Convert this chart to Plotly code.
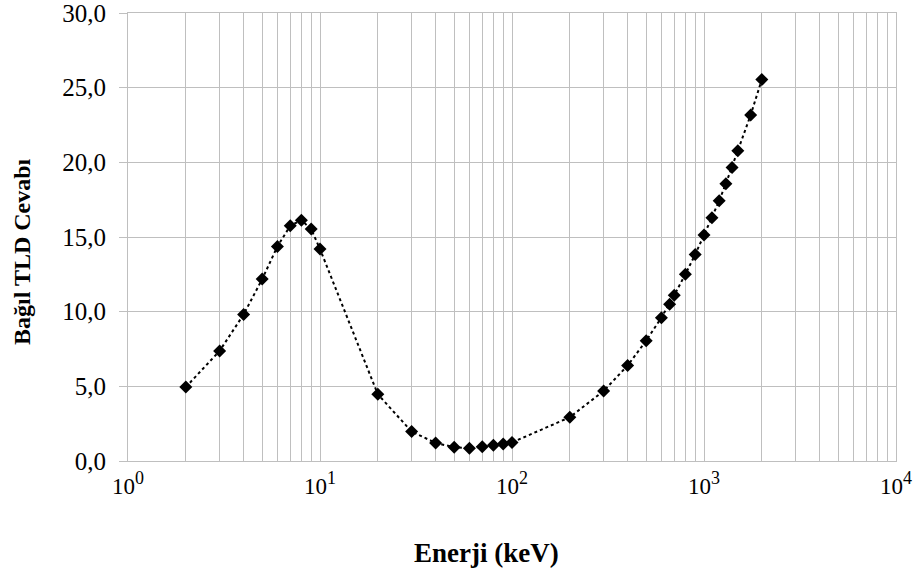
import plotly.graph_objects as go

energy_kev = [2, 3, 4, 5, 6, 7, 8, 9, 10, 20, 30, 40, 50, 60, 70, 80, 90, 100,
              200, 300, 400, 500, 600, 662, 700, 800, 900, 1000, 1100, 1200,
              1300, 1400, 1500, 1750, 2000]
response = [4.95, 7.37, 9.81, 12.18, 14.37, 15.75, 16.13, 15.53, 14.19, 4.47,
            1.97, 1.21, 0.92, 0.85, 0.96, 1.05, 1.14, 1.24,
            2.93, 4.69, 6.39, 8.06, 9.6, 10.5, 11.1, 12.51, 13.83, 15.13, 16.29, 17.43,
            18.57, 19.66, 20.78, 23.17, 25.54]

x_tick_vals = [1, 10, 100, 1000, 10000]
x_tick_exponents = ["0", "1", "2", "3", "4"]
y_tick_vals = [0, 5, 10, 15, 20, 25, 30]
y_tick_text = ["0,0", "5,0", "10,0", "15,0", "20,0", "25,0", "30,0"]

x_tick_text = ["10<sup><span style='font-size:18px'>%s</span></sup>" % e for e in x_tick_exponents]

# gridlines at every integer multiple within each decade
grid_vals = []
for d in [1, 10, 100, 1000]:
    for m in range(1, 10):
        grid_vals.append(m * d)
grid_vals.append(10000)
grid_text = [x_tick_text[x_tick_vals.index(v)] if v in x_tick_vals else "" for v in grid_vals]

FONT = "Liberation Serif, Times New Roman, serif"
GRID = "#bfbfbf"
W, H = 915, 571
PL, PR, PT, PB = 128, 896, 13, 461  # plot area in page pixels

fig = go.Figure()
fig.add_trace(go.Scatter(
    x=energy_kev, y=response, mode="lines+markers",
    line=dict(color="black", width=2, dash="dot"),
    marker=dict(symbol="diamond", size=10, color="black"),
    showlegend=False, cliponaxis=False,
))

fig.update_layout(
    width=W, height=H,
    margin=dict(l=PL, r=W - PR, t=PT, b=H - PB, pad=0),
    paper_bgcolor="white", plot_bgcolor="white",
    font=dict(family=FONT, color="black"),
    xaxis=dict(
        type="log", range=[0, 4],
        tickmode="array", tickvals=grid_vals, ticktext=grid_text,
        showgrid=True, gridcolor=GRID, gridwidth=1,
        showline=True, linecolor=GRID, linewidth=1, mirror=True,
        ticks="", tickfont=dict(family=FONT, size=23, color="black"),
        ticklabeloverflow="allow", ticklabelstandoff=4,
        zeroline=False, automargin=False,
    ),
    yaxis=dict(
        range=[0, 30], tickmode="array", tickvals=y_tick_vals, ticktext=y_tick_text,
        showgrid=True, gridcolor=GRID, gridwidth=1,
        showline=True, linecolor=GRID, linewidth=1, mirror=True,
        ticks="outside", ticklen=8, tickcolor=GRID, tickwidth=1,
        ticklabelstandoff=8, ticklabeloverflow="allow",
        tickfont=dict(family=FONT, size=25, color="black"),
        zeroline=False, automargin=False,
    ),
    annotations=[
        dict(text="Enerji (keV)", xref="paper", yref="paper",
             x=(486 - PL) / (PR - PL), y=(PB - 553) / (PB - PT), xanchor="center", yanchor="middle",
             showarrow=False, font=dict(family=FONT, size=27, color="black", weight="bold")),
        dict(text="Bağıl TLD Cevabı", xref="paper", yref="paper",
             x=(22 - PL) / (PR - PL), y=(PB - 252) / (PB - PT), xanchor="center", yanchor="middle",
             textangle=-90, showarrow=False, font=dict(family=FONT, size=24, color="black", weight="bold")),
    ],
)

fig.write_html(
    "out.html",
    config={"displayModeBar": False},
    post_script="document.body.style.margin='0';document.body.style.overflow='hidden';",
)
